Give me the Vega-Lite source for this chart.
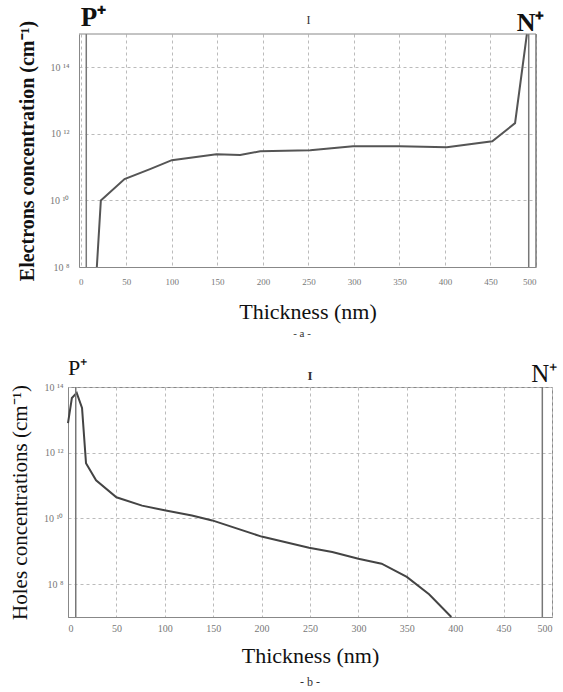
{
  "$schema": "https://vega.github.io/schema/vega-lite/v6.json",
  "background": "white",
  "padding": {"left": 9, "top": 4, "right": 0, "bottom": 0},
  "config": {
    "font": "Liberation Serif",
    "view": {"stroke": "#888", "strokeWidth": 1},
    "axis": {
      "labelFont": "Liberation Serif",
      "titleFont": "Liberation Serif",
      "labelColor": "#777",
      "labelFontSize": 9,
      "ticks": false,
      "domainColor": "#888",
      "gridColor": "#bbb",
      "gridDash": [3, 3],
      "titleFontWeight": "normal",
      "titleColor": "#111"
    },
    "title": {"font": "Liberation Serif", "fontWeight": "normal", "color": "#333"}
  },
  "concat": [
    {
      "width": 468,
      "height": 233,
      "view": {"stroke": null},
      "title": {"text": "- a -", "orient": "bottom", "fontSize": 11, "offset": 6},
      "layer": [
        {
          "data": {"values": [
            {"x": 17.6, "n": 1e8},
            {"x": 22, "n": 1e10},
            {"x": 48, "n": 4.4e10},
            {"x": 76, "n": 8.7e10},
            {"x": 100, "n": 1.62e11},
            {"x": 149, "n": 2.45e11},
            {"x": 175, "n": 2.3e11},
            {"x": 197, "n": 3.0e11},
            {"x": 252, "n": 3.24e11},
            {"x": 299, "n": 4.27e11},
            {"x": 350, "n": 4.27e11},
            {"x": 402, "n": 3.98e11},
            {"x": 452, "n": 6.0e11},
            {"x": 477, "n": 2.1e12},
            {"x": 490, "n": 1e15}
          ]},
          "mark": {"type": "line", "color": "#555", "strokeWidth": 2},
          "encoding": {
            "x": {"field": "x", "type": "quantitative",
              "scale": {"domain": [-2, 500], "range": [11, 468], "nice": false, "zero": false},
              "axis": {"values": [0, 50, 100, 150, 200, 250, 300, 350, 400, 450, 500],
                "grid": true, "labelPadding": 10, "title": "Thickness (nm)", "titleFontSize": 22, "titlePadding": 15}},
            "y": {"field": "n", "type": "quantitative",
              "scale": {"type": "log", "domain": [1e8, 1e15], "nice": false},
              "axis": {"values": [1e8, 1e10, 1e12, 1e14], "grid": true, "labelFontSize": 10, "offset": -11,
                "labelExpr": "datum.value >= 1e14 ? '10 ¹⁴' : datum.value >= 1e12 ? '10 ¹²' : datum.value >= 1e10 ? '10 ¹⁰' : '10 ⁸'",
                "labelPadding": 10, "title": "Electrons concentration (cm⁻¹)", "titleFontSize": 20, "titleFontWeight": "bold", "titlePadding": 12}}
          }
        },
        {
          "data": {"values": [{"x": 6}, {"x": 492}, {"x": 500}]},
          "mark": {"type": "rule", "color": "#777", "strokeWidth": 1.5},
          "encoding": {"x": {"field": "x", "type": "quantitative"}}
        },
        {
          "data": {"values": [{"edge": "top"}]},
          "mark": {"type": "rule", "color": "#888", "strokeWidth": 1},
          "encoding": {"x": {"datum": -2}, "x2": {"datum": 500}, "y": {"datum": 1e15}}
        },
        {
          "data": {"values": [{"label": "P⁺", "x": 0}]},
          "mark": {"type": "text", "align": "left", "baseline": "alphabetic", "fontSize": 27, "fontWeight": "bold", "dy": -8, "color": "#111"},
          "encoding": {"x": {"field": "x", "type": "quantitative"}, "y": {"datum": 1e15}, "text": {"field": "label"}}
        },
        {
          "data": {"values": [{"label": "N⁺", "x": 494}]},
          "mark": {"type": "text", "align": "center", "baseline": "alphabetic", "fontSize": 26, "fontWeight": "bold", "dy": -3, "color": "#111"},
          "encoding": {"x": {"field": "x", "type": "quantitative"}, "y": {"datum": 1e15}, "text": {"field": "label"}}
        },
        {
          "data": {"values": [{"label": "I", "x": 250}]},
          "mark": {"type": "text", "align": "center", "baseline": "alphabetic", "fontSize": 12, "dy": -10, "color": "#333"},
          "encoding": {"x": {"field": "x", "type": "quantitative"}, "y": {"datum": 1e15}, "text": {"field": "label"}}
        }
      ]
    },
    {
      "width": 484,
      "height": 230,
      "title": {"text": "- b -", "orient": "bottom", "fontSize": 12, "offset": 11},
      "layer": [
        {
          "data": {"values": [
            {"x": 0, "p": 7.9e12},
            {"x": 4, "p": 4.6e13},
            {"x": 9, "p": 6.6e13},
            {"x": 14.5, "p": 2.3e13},
            {"x": 18.6, "p": 4.8e11},
            {"x": 29, "p": 1.45e11},
            {"x": 50, "p": 4.4e10},
            {"x": 76.5, "p": 2.45e10},
            {"x": 101, "p": 1.74e10},
            {"x": 128, "p": 1.23e10},
            {"x": 149, "p": 8.7e9},
            {"x": 200, "p": 2.8e9},
            {"x": 249, "p": 1.29e9},
            {"x": 273, "p": 9.5e8},
            {"x": 300, "p": 5.9e8},
            {"x": 324, "p": 4.2e8},
            {"x": 350, "p": 1.66e8},
            {"x": 373, "p": 4.9e7},
            {"x": 396, "p": 1e7}
          ]},
          "mark": {"type": "line", "color": "#444", "strokeWidth": 2},
          "encoding": {
            "x": {"field": "x", "type": "quantitative",
              "scale": {"domain": [0, 500], "nice": false, "zero": false},
              "axis": {"values": [0, 50, 100, 150, 200, 250, 300, 350, 400, 450, 500],
                "grid": true, "labelPadding": 6, "labelFontSize": 10, "title": "Thickness (nm)", "titleFontSize": 22, "titlePadding": 12}},
            "y": {"field": "p", "type": "quantitative",
              "scale": {"type": "log", "domain": [1e7, 1e14], "nice": false},
              "axis": {"values": [1e8, 1e10, 1e12, 1e14], "grid": true, "labelFontSize": 10,
                "labelExpr": "datum.value >= 1e14 ? '10 ¹⁴' : datum.value >= 1e12 ? '10 ¹²' : datum.value >= 1e10 ? '10 ¹⁰' : '10 ⁸'",
                "labelPadding": 5, "title": "Holes concentrations (cm⁻¹)", "titleFontSize": 21, "titlePadding": 13}}
          }
        },
        {
          "data": {"values": [{"x": 8}, {"x": 490}]},
          "mark": {"type": "rule", "color": "#777", "strokeWidth": 1.5},
          "encoding": {"x": {"field": "x", "type": "quantitative"}}
        },
        {
          "data": {"values": [{"label": "P⁺", "x": 0}]},
          "mark": {"type": "text", "align": "left", "baseline": "alphabetic", "fontSize": 22, "dy": -12, "color": "#111"},
          "encoding": {"x": {"field": "x", "type": "quantitative"}, "y": {"datum": 1e14}, "text": {"field": "label"}}
        },
        {
          "data": {"values": [{"label": "N⁺", "x": 492}]},
          "mark": {"type": "text", "align": "center", "baseline": "alphabetic", "fontSize": 25, "dy": -5, "color": "#111"},
          "encoding": {"x": {"field": "x", "type": "quantitative"}, "y": {"datum": 1e14}, "text": {"field": "label"}}
        },
        {
          "data": {"values": [{"label": "I", "x": 250}]},
          "mark": {"type": "text", "align": "center", "baseline": "alphabetic", "fontSize": 13, "fontWeight": "bold", "dy": -7, "color": "#333"},
          "encoding": {"x": {"field": "x", "type": "quantitative"}, "y": {"datum": 1e14}, "text": {"field": "label"}}
        }
      ]
    }
  ],
  "columns": 1,
  "align": "none",
  "spacing": 17
}
